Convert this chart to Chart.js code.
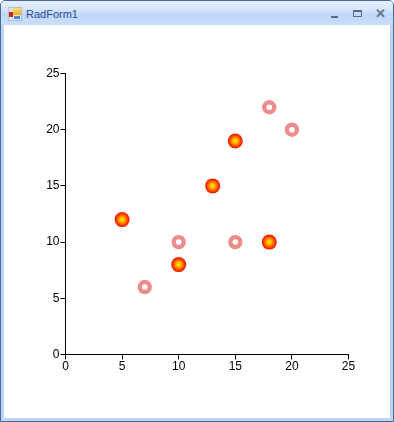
<!DOCTYPE html>
<html><head><meta charset="utf-8">
<style>
html,body{margin:0;padding:0;background:#fff;}
#win{position:absolute;left:0;top:0;width:394px;height:422px;overflow:hidden;background:#bcd6f7;box-sizing:border-box;border:1px solid #48689a;border-radius:5px 5px 0 0;}
#bar{position:absolute;left:0;top:0;width:392px;height:24px;background:linear-gradient(#e6f0fd,#d7e6fb 35%,#bfd8fb 55%,#c9defb);}
#title{position:absolute;left:25px;top:7px;font:11px "Liberation Sans",sans-serif;color:#2f4a9a;}
#client{position:absolute;left:3px;top:24px;width:386px;height:393px;background:#fff;}
#ico{position:absolute;left:7px;top:6px;width:14px;height:14px;background:#d9e2ee;border:1px solid #b4bfd0;box-sizing:border-box;}
#ico i{position:absolute;display:block;}
.b{position:absolute;}
canvas{position:absolute;left:0;top:0;}
</style></head><body>
<div id="win">
<div id="bar"></div>
<div id="ico"><i style="left:4px;top:0;width:8px;height:7px;background:linear-gradient(#ffe27a,#f0a818)"></i><i style="left:0;top:4px;width:4px;height:5px;background:#c8281c"></i><i style="left:5px;top:8px;width:6px;height:3px;background:#4f86d8"></i></div>
<div id="title">RadForm1</div>
<div class="b" style="left:330px;top:15px;width:7px;height:2px;background:#5d6b80"></div>
<div class="b" style="left:352px;top:9px;width:9px;height:7px;border:1px solid #5d6b80;border-top-width:2px;box-sizing:border-box"></div>
<div class="b" style="left:374px;top:6px;font:bold 13px 'Liberation Sans',sans-serif;color:#6a7688;line-height:13px">✕</div>
<div id="client"></div>
</div>
<canvas id="c" width="394" height="422" style="width:394px;height:422px"></canvas>
<script src="https://cdn.jsdelivr.net/npm/chart.js@4"></script>
<script>
const seriesAX=[5,10,13,15,18];
const seriesAY=[12,8,15,19,10];
const seriesBX=[7,10,15,18,20];
const seriesBY=[6,10,10,22,20];
const tickValues=[0,5,10,15,20,25];

function toPts(xs,ys){return xs.map((x,i)=>({x:x,y:ys[i]}));}
function glow(c){
  if(!c.parsed)return '#ff2000';
  const s=c.chart.scales;
  const px=s.x.getPixelForValue(c.parsed.x), py=s.y.getPixelForValue(c.parsed.y);
  if(!isFinite(px)||!isFinite(py))return '#ff2000';
  const g=c.chart.ctx.createRadialGradient(px,py,0,px,py,7.5);
  g.addColorStop(0,'#ffe800');
  g.addColorStop(0.35,'#ffb000');
  g.addColorStop(0.7,'#ff4a00');
  g.addColorStop(1,'#f81000');
  return g;
}
function fixedTicks(axis){axis.ticks=tickValues.map(v=>({value:v}));}
new Chart(document.getElementById('c'),{
  type:'scatter',
  data:{datasets:[
    {data:toPts(seriesBX,seriesBY),pointRadius:5,pointBorderWidth:4.4,pointBorderColor:'#ec8c8c',pointBackgroundColor:'#ffffff'},
    {data:toPts(seriesAX,seriesAY),pointRadius:7.5,pointBorderWidth:0,pointBackgroundColor:glow}
  ]},
  options:{
    responsive:false,animation:false,
    layout:{padding:{left:0,right:45.5,top:73.5,bottom:0}},
    plugins:{legend:{display:false},title:{display:false},tooltip:{enabled:false}},
    scales:{
      x:{type:'linear',min:0,max:25,
        afterFit(a){a.height=67.5;},afterBuildTicks:fixedTicks,
        grid:{drawOnChartArea:false,drawTicks:true,tickLength:5,color:'#000'},
        border:{color:'#000',width:1},
        ticks:{color:'#000',padding:0,maxRotation:0,font:{family:'Liberation Sans',size:12}}},
      y:{type:'linear',min:0,max:25,
        afterFit(a){a.width=65.5;},afterBuildTicks:fixedTicks,
        grid:{drawOnChartArea:false,drawTicks:true,tickLength:5,color:'#000'},
        border:{color:'#000',width:1},
        ticks:{color:'#000',padding:1,font:{family:'Liberation Sans',size:12}}}
    }
  }
});
</script>
</body></html>
